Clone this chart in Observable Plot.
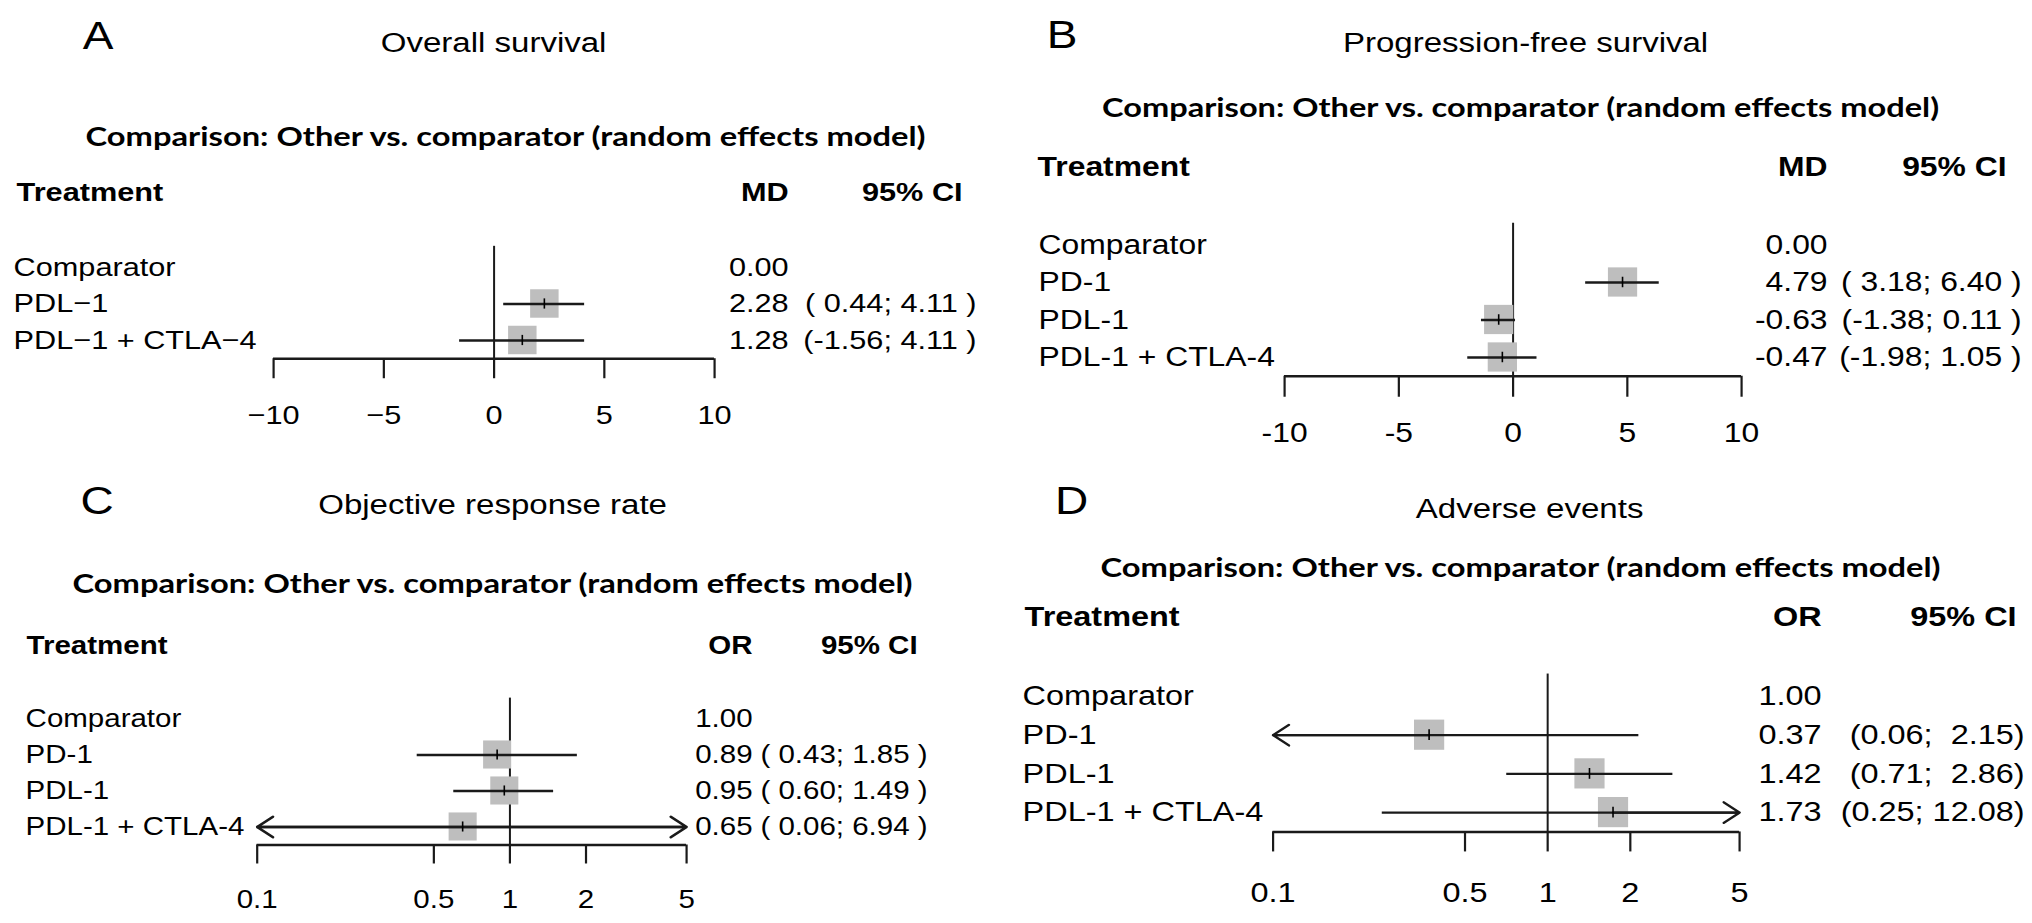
<!DOCTYPE html>
<html><head><meta charset="utf-8">
<script src="https://cdn.jsdelivr.net/npm/d3@7"></script>
<script src="https://cdn.jsdelivr.net/npm/@observablehq/plot@0.6"></script>
<style>
html,body{margin:0;padding:0;background:#fff;}
#fig{position:relative;width:2032px;height:923px;overflow:hidden;background:#fff;}
.panel{position:absolute;}
.panel svg{transform-origin:0 0;display:block;}
</style></head><body><div id="fig"></div>
<script>
// ---------------- data ----------------
const panelLetters = ["A", "B", "C", "D"];
const panelTitles = ["Overall survival", "Progression-free survival", "Objective response rate", "Adverse events"];
const comparisonText = "Comparison: Other vs. comparator (random effects model)";
const effectHeaders = ["MD", "MD", "OR", "OR"];
const ciHeader = "95% CI";
const treatmentHeader = "Treatment";

const treatmentsA = ["Comparator", "PDL−1", "PDL−1 + CTLA−4"];
const mdA = [0.00, 2.28, 1.28];
const lowerA = [null, 0.44, -1.56];
const upperA = [null, 4.11, 4.11];
const ticksA = [-10, -5, 0, 5, 10];
const tickLabelsA = ["−10", "−5", "0", "5", "10"];

const treatmentsB = ["Comparator", "PD-1", "PDL-1", "PDL-1 + CTLA-4"];
const mdB = [0.00, 4.79, -0.63, -0.47];
const lowerB = [null, 3.18, -1.38, -1.98];
const upperB = [null, 6.40, 0.11, 1.05];
const ticksB = [-10, -5, 0, 5, 10];
const tickLabelsB = ["-10", "-5", "0", "5", "10"];

const treatmentsC = ["Comparator", "PD-1", "PDL-1", "PDL-1 + CTLA-4"];
const orC = [1.00, 0.89, 0.95, 0.65];
const lowerC = [null, 0.43, 0.60, 0.06];
const upperC = [null, 1.85, 1.49, 6.94];
const ticksC = [0.1, 0.5, 1, 2, 5];
const tickLabelsC = ["0.1", "0.5", "1", "2", "5"];

const treatmentsD = ["Comparator", "PD-1", "PDL-1", "PDL-1 + CTLA-4"];
const orD = [1.00, 0.37, 1.42, 1.73];
const lowerD = [null, 0.06, 0.71, 0.25];
const upperD = [null, 2.15, 2.86, 12.08];
const ticksD = [0.1, 0.5, 1, 2, 5];
const tickLabelsD = ["0.1", "0.5", "1", "2", "5"];

// ---------------- layout ----------------
const S = 1.18;               // horizontal stretch of the original figure
const SANS = "'Liberation Sans', Arial, Helvetica, sans-serif";
const BOLD2 = "Lato, 'Open Sans', sans-serif";
const NB = "\u00a0";

const panels = [
  {names: treatmentsA, est: mdA, lo: lowerA, hi: upperA, ticks: ticksA, tickLabels: tickLabelsA,
   type: "linear", ref: 0, ci: {open: "(", close: " )", padLo: true, padHi: false},
   left: 0, top: 0, height: 460, xRange: [273, 714], rowY0: 267, step: 36.5, font: 26,
   letterPos: [97.5, 36], titlePos: [493, 42.5], cmpPos: [505, 137], cmpW: 840,
   hdrY: 192, hdrLeft: 16, rowLeft: 13, effRight: 788, ciHdrRight: 962, ciRight: 976, tickLen: 20, labelY: 415},
  {names: treatmentsB, est: mdB, lo: lowerB, hi: upperB, ticks: ticksB, tickLabels: tickLabelsB,
   type: "linear", ref: 0, ci: {open: "(", close: " )", padLo: true, padHi: false},
   left: 1016, top: 0, height: 460, xRange: [1284, 1741], rowY0: 244.5, step: 37.5, font: 27,
   letterPos: [1061.5, 35], titlePos: [1525, 42.5], cmpPos: [1520, 108], cmpW: 837,
   hdrY: 167, hdrLeft: 1037, rowLeft: 1038, effRight: 1827, ciHdrRight: 2006, ciRight: 2021, tickLen: 21, labelY: 433},
  {names: treatmentsC, est: orC, lo: lowerC, hi: upperC, ticks: ticksC, tickLabels: tickLabelsC,
   type: "log", ref: 1, ci: {open: "( ", close: " )", padLo: false, padHi: false},
   left: 0, top: 460, height: 463, xRange: [256.6, 686], rowY0: 718.5, step: 36, font: 25,
   letterPos: [96.5, 501], titlePos: [492, 505], cmpPos: [492, 584], cmpW: 840,
   hdrY: 646, hdrLeft: 26, rowLeft: 25, effRight: 752, ciHdrRight: 917, ciRight: 927, tickLen: 19, labelY: 900},
  {names: treatmentsD, est: orD, lo: lowerD, hi: upperD, ticks: ticksD, tickLabels: tickLabelsD,
   type: "log", ref: 1, ci: {open: "(", close: ")", padLo: false, padHi: true},
   left: 1016, top: 460, height: 463, xRange: [1272.5, 1739], rowY0: 696, step: 38.7, font: 27.5,
   letterPos: [1071, 501.5], titlePos: [1529, 509], cmpPos: [1520, 568], cmpW: 840,
   hdrY: 617, hdrLeft: 1024, rowLeft: 1022, effRight: 1821, ciHdrRight: 2016, ciRight: 2024, tickLen: 20, labelY: 893}
];

function padTo(s, len) { while (s.length < len) s = NB + s; return s; }

function drawPanel(p, k) {
  const W = 1016 / S;
  const n = p.names.length;
  const axisY = p.rowY0 + (n - 0.5) * p.step;
  const mT = p.rowY0 - p.step / 2 - p.top;
  const mB = p.height - (axisY - p.top);
  const ux = x => (x - p.left) / S;
  const mL = ux(p.xRange[0]);
  const mR = W - ux(p.xRange[1]);
  const dmin = p.ticks[0], dmax = p.ticks[p.ticks.length - 1];
  const fmt = v => v.toFixed(2);

  const rows = p.names.map((name, i) => ({i, name, est: p.est[i], lo: p.lo[i], hi: p.hi[i]}));
  const withCI = rows.filter(d => d.lo != null);
  const loLen = d3.max(withCI, d => fmt(d.lo).length);
  const hiLen = d3.max(withCI, d => fmt(d.hi).length);
  rows.forEach(d => {
    d.effText = fmt(d.est);
    if (d.lo == null) { d.ciText = ""; return; }
    const lo = p.ci.padLo ? padTo(fmt(d.lo), loLen) : fmt(d.lo);
    const hi = p.ci.padHi ? padTo(fmt(d.hi), hiLen) : fmt(d.hi);
    d.ciText = p.ci.open + lo + "; " + hi + p.ci.close;
  });
  const segs = withCI.map(d => ({...d, a: Math.max(d.lo, dmin), b: Math.min(d.hi, dmax)}));
  const leftArrows = withCI.filter(d => d.lo < dmin);
  const rightArrows = withCI.filter(d => d.hi > dmax);
  const tickData = p.ticks.map((v, j) => ({v, lab: p.tickLabels[j]}));
  const base = n - 0.5;   // axis line position (bottom of last row)

  const at = (x, y) => ({frameAnchor: "top-left", dx: ux(x) - mL, dy: y - p.top - mT});
  const label = (txt, x, y, o) => Plot.text([txt], {text: d => d, ...at(x, y), lineAnchor: "middle", fill: "black", ...o});
  const lineCol = "#1a1a1a";

  const svg = Plot.plot({
    width: W, height: p.height,
    marginTop: mT, marginBottom: mB, marginLeft: mL, marginRight: mR,
    x: {type: p.type, domain: [dmin, dmax], axis: null},
    y: {domain: [-0.5, n - 0.5], reverse: true, axis: null},
    style: {fontFamily: SANS, fontSize: p.font + "px", color: "black", background: "transparent", overflow: "visible"},
    marks: [
      Plot.ruleX([p.ref], {x: d => d, y1: () => -0.58, y2: () => base, stroke: lineCol, strokeWidth: 2 / S}),
      Plot.ruleX(withCI, {x: "est", y1: d => d.i - 0.39, y2: d => d.i + 0.39, stroke: "#bebebe", strokeWidth: 0.78 * p.step / S}),
      Plot.ruleY(segs, {y: "i", x1: "a", x2: "b", stroke: lineCol, strokeWidth: 2.3}),
      Plot.arrow(leftArrows, {x1: "est", x2: () => dmin, y1: "i", y2: "i", stroke: lineCol, strokeWidth: 2.3, headLength: 11, headAngle: 75}),
      Plot.arrow(rightArrows, {x1: "est", x2: () => dmax, y1: "i", y2: "i", stroke: lineCol, strokeWidth: 2.3, headLength: 11, headAngle: 75}),
      Plot.ruleX(withCI, {x: "est", y1: d => d.i - 0.14, y2: d => d.i + 0.14, stroke: "black", strokeWidth: 1.6 / S}),
      // x axis: line, ticks, labels
      Plot.ruleY([base], {y: d => d, x1: () => dmin, x2: () => dmax, stroke: lineCol, strokeWidth: 2.4}),
      Plot.ruleX(tickData, {x: "v", y1: () => base, y2: () => base + p.tickLen / p.step, stroke: lineCol, strokeWidth: 2.2 / S}),
      Plot.text(tickData, {x: "v", y: () => base, text: "lab", dy: p.labelY - axisY, lineAnchor: "middle", fill: "black"}),
      // row labels and value columns
      Plot.text(rows, {y: "i", text: "name", frameAnchor: "left", dx: ux(p.rowLeft) - mL, textAnchor: "start", lineAnchor: "middle", fill: "black"}),
      Plot.text(rows, {y: "i", text: "effText", frameAnchor: "right", dx: ux(p.effRight) - (W - mR), textAnchor: "end", lineAnchor: "middle", fill: "black"}),
      Plot.text(rows, {y: "i", text: "ciText", frameAnchor: "right", dx: ux(p.ciRight) - (W - mR), textAnchor: "end", lineAnchor: "middle", fill: "black"}),
      // headers
      label(treatmentHeader, p.hdrLeft, p.hdrY, {textAnchor: "start", fontWeight: "bold"}),
      label(effectHeaders[k], p.effRight, p.hdrY, {textAnchor: "end", fontWeight: "bold"}),
      label(ciHeader, p.ciHdrRight, p.hdrY, {textAnchor: "end", fontWeight: "bold"}),
      // titles
      label(panelLetters[k], p.letterPos[0], p.letterPos[1], {textAnchor: "middle", fontSize: 39}),
      label(panelTitles[k], p.titlePos[0], p.titlePos[1], {textAnchor: "middle", fontSize: 28}),
      label(comparisonText, p.cmpPos[0], p.cmpPos[1], {textAnchor: "middle", fontSize: 26, fontWeight: "bold", fontFamily: BOLD2})
    ]
  });
  svg.style.transform = `scaleX(${S})`;
  svg.querySelectorAll("text").forEach(t => {
    if (t.textContent === comparisonText) {
      t.setAttribute("textLength", p.cmpW / S);
      t.setAttribute("lengthAdjust", "spacingAndGlyphs");
    }
  });
  const div = document.createElement("div");
  div.className = "panel";
  div.style.left = p.left + "px";
  div.style.top = p.top + "px";
  div.appendChild(svg);
  document.getElementById("fig").appendChild(div);
}

panels.forEach(drawPanel);
</script>
</body></html>
